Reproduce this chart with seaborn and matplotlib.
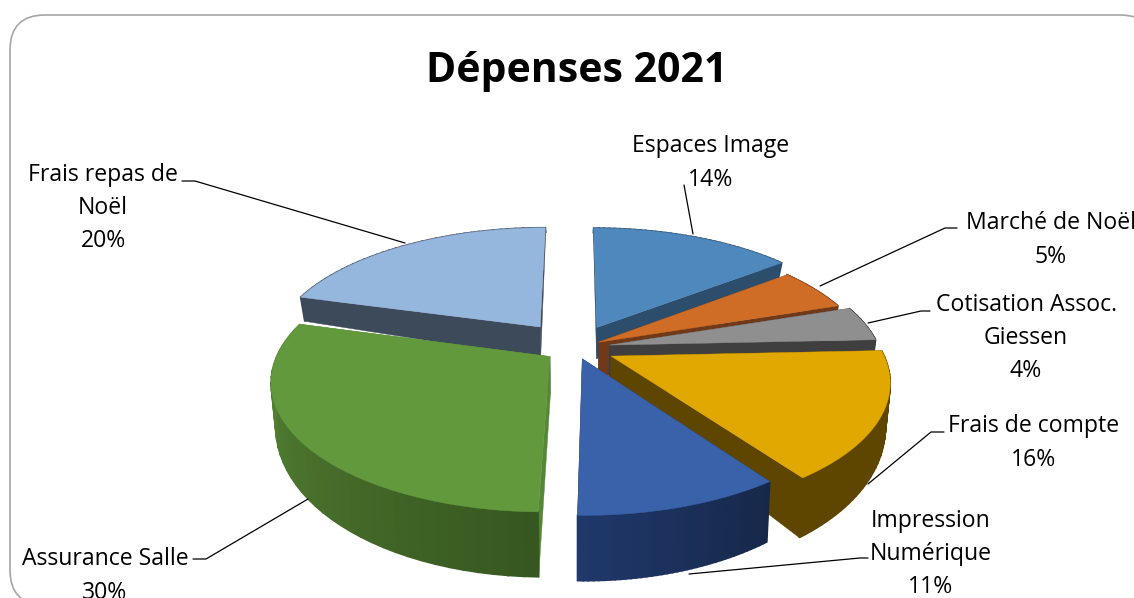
import numpy as np
import seaborn as sns
import matplotlib.pyplot as plt
from matplotlib.patches import FancyBboxPatch

categories = ["Espaces Image", "Marché de Noël", "Cotisation Assoc.\nGiessen", "Frais de compte",
              "Impression\nNumérique", "Assurance Salle", "Frais repas de\nNoël"]
# values estimated from the slice edges, the labels carry the rounded percent
shares = [14.5, 5.4, 4.4, 15.9, 10.1, 29.0, 20.7]
share_labels = ["14%", "5%", "4%", "16%", "11%", "30%", "20%"]
top_colors = ["#4F88BC", "#CF6D27", "#8F8F8F", "#E0A800", "#3A62AA", "#62993D", "#95B6DD"]
cut_colors = ["#2C4D6B", "#70391A", "#3F3F3F", "#5F4600", "#1A2D50", "#558737", "#3D4A5A"]
rim_colors = [("#2C4D6B", "#2C4D6B"), ("#70391A", "#70391A"), ("#3F3F3F", "#3F3F3F"), ("#5F4600", "#5F4600"),
              ("#16284A", "#20386A"), ("#375720", "#5A8C38"), ("#3D4A5A", "#3D4A5A")]
explode = [0.19, 0.10, 0.13, 0.147, 0.09, 0.114, 0.22]

# label centre positions and leader lines, in pixels of the picture
label_pos = [(711, 163), (1051, 240), (1026, 338), (1034, 443), (931, 554), (105, 576), (103, 208)]
leaders = [[(684, 185), (693, 234)],
           [(957, 228), (945, 228), (820, 286)],
           [(930, 311), (921, 311), (868, 323)],
           [(944, 432), (931, 432), (868, 484)],
           [(868, 558), (860, 558), (689, 574)],
           [(193, 559), (206, 559), (308, 499)],
           [(182, 181), (195, 181), (405, 243)]]

CX, CY = 575, 348
RX, RY = 270, 124
PERSP = 0.18
DEPTH, TILT = 36, 27


def project(u, v, low=False):
    s = 1 / (1 + PERSP * v)
    x = RX * u * s
    y = -RY * v * s
    if low:
        x = x * 0.985
        y = y + DEPTH - TILT * v
    return np.column_stack([CX + x, CY + y])


sns.set_theme(style="white")
plt.rcParams['font.family'] = ['Open Sans', 'DejaVu Sans']

fig = plt.figure(figsize=(11.34, 5.98), dpi=100)
ax = fig.add_axes([0, 0, 1, 1])
ax.set_xlim(0, 1134)
ax.set_ylim(598, 0)
ax.axis("off")

ax.add_patch(FancyBboxPatch((45, 50), 1075, 520, boxstyle="round,pad=35,rounding_size=35",
                            fc="white", ec="#A6A6A6", lw=1.2, zorder=0))

edges = np.cumsum([0] + shares) / sum(shares) * 2 * np.pi
# paint back slices first, the two front slices last
order = [6, 0, 1, 2, 3, 4, 5]
z = 2
for i in order:
    a0, a1 = edges[i], edges[i + 1]
    mid = (a0 + a1) / 2
    ou, ov = explode[i] * np.sin(mid), explode[i] * np.cos(mid)
    t = np.linspace(a0, a1, 40)
    u, v = ou + np.sin(t), ov + np.cos(t)

    # the two cut faces
    for a in (a0, a1):
        us = np.array([ou, ou + np.sin(a)])
        vs = np.array([ov, ov + np.cos(a)])
        quad = np.vstack([project(us, vs), project(us, vs, low=True)[::-1]])
        ax.fill(quad[:, 0], quad[:, 1], color=cut_colors[i], lw=0.3, zorder=z)
    z += 1

    # outer rim in short strips, shaded along the slice
    shades = sns.blend_palette(rim_colors[i], n_colors=len(t) - 1)
    hi, lo = project(u, v), project(u, v, low=True)
    for k in range(len(t) - 1):
        quad = np.vstack([hi[k:k + 2], lo[k:k + 2][::-1]])
        ax.fill(quad[:, 0], quad[:, 1], fc=shades[k], ec=shades[k], lw=1.2, zorder=z)
    z += 1

    # top face
    outline = np.vstack([project(np.array([ou]), np.array([ov])), hi])
    ax.fill(outline[:, 0], outline[:, 1], color=top_colors[i], lw=0.3, zorder=z)
    z += 1

for name, share, pos, line in zip(categories, share_labels, label_pos, leaders):
    ax.text(pos[0], pos[1], f"{name}\n{share}", ha="center", va="center", fontsize=16.6,
            color="black", linespacing=1.52, zorder=40)
    ax.plot(*zip(*line), color="black", lw=0.9, zorder=30)

ax.text(577, 71, "Dépenses 2021", ha="center", va="center", fontsize=29.5, fontweight="bold", color="black")

sns.despine(ax=ax, left=True, bottom=True)
fig.savefig("out.png", dpi=100)
